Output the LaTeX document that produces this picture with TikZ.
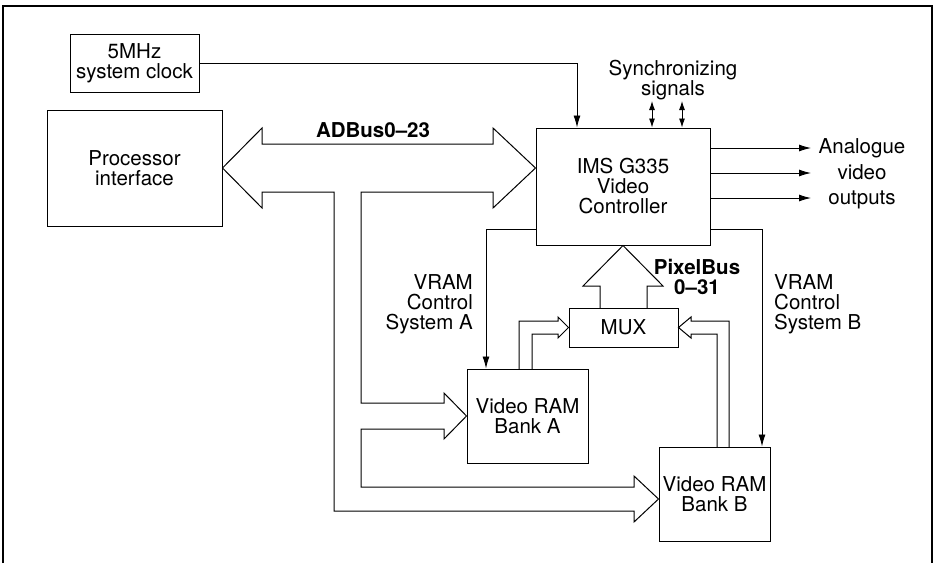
\documentclass[tikz,border=0pt]{standalone}
\usepackage{fontspec}
\setmainfont{TeX Gyre Heros}
\usetikzlibrary{arrows.meta,calc}
\begin{document}
\begin{tikzpicture}[x=1pt,y=-1pt,
  box/.style={draw,line width=1pt,inner sep=0,align=center,font=\fontsize{20.5}{20}\selectfont},
  lbl/.style={inner sep=0,font=\fontsize{20.5}{20}\selectfont},
  blbl/.style={inner sep=0,font=\fontsize{20.5}{20}\selectfont\bfseries},
  bus/.style={line width=1pt,line join=miter},
  sig/.style={line width=0.9pt,-{Latex[length=12pt,width=7pt]}},
  sigtwo/.style={line width=0.9pt,{Latex[length=9pt,width=6pt]}-{Latex[length=9pt,width=6pt]}},
]
\useasboundingbox (0,0) rectangle (935,563);
\draw[line width=1.4pt] (3,563) -- (3,6) -- (932,6) -- (932,563);

% blocks
\node[box,minimum width=129,minimum height=58] (clock) at (134.5,63) {5MHz\\system clock};
\node[box,minimum width=175,minimum height=116] (proc) at (134.5,168) {Processor\\interface};
\node[box,minimum width=174,minimum height=117] (ctrl) at (623,186.5) {IMS G335\\Video\\Controller};
\node[box,minimum width=109,minimum height=39] (mux) at (623.5,327.5) {MUX};
\node[box,minimum width=121,minimum height=94] (bankA) at (527.5,416) {Video RAM\\Bank A};
\node[box,minimum width=111,minimum height=94] (bankB) at (714.5,494) {Video RAM\\Bank B};

% labels
\node[lbl,align=center] (lsync) at (673,80) {Synchronizing\\signals};
\node[inner sep=0,align=center,font=\fontsize{20.5}{25.5}\selectfont] (lout) at (862,174) {Analogue\\video\\outputs};
\node[blbl] (ladbus) at (373,130) {ADBus0–23};
\node[lbl,align=right,anchor=east] (lvA) at (473,304) {VRAM\\Control\\System A};
\node[lbl,align=left,anchor=west] (lvB) at (774,304) {VRAM\\Control\\System B};
\node[blbl,align=center] (lpix) at (697,277) {PixelBus\\0–31};

% ADBus broad arrow with branches to the banks
\draw[bus] (proc.east) -- (262,128) -- (262,144) -- (493,144) -- (493,128)
  -- (ctrl.west |- proc.east) -- (493,208) -- (493,192) -- (361,192)
  -- (361,403) -- (444,403) -- (444,393) -- (bankA.west) -- (444,439) -- (444,429)
  -- (361,429) -- (361,487) -- (634,487) -- (634,476) -- ($(bankB.west)+(0,5)$)
  -- (634,522) -- (634,511) -- (334,511) -- (334,192) -- (262,192) -- (262,208) -- cycle;

% PixelBus
\draw[bus] (600,308) -- (600,286) -- (583,286) -- (ctrl.south) -- (663,286) -- (647,286) -- (647,308);
% bank A to MUX
\draw[bus] (519,369) -- (519,321) -- (558,321) -- (558,317) -- (mux.west) -- (558,338) -- (558,334) -- (532,334) -- (532,369);
% bank B to MUX
\draw[bus] (729,447) -- (729,321) -- (691,321) -- (691,317) -- (mux.east) -- (691,338) -- (691,334) -- (717,334) -- (717,447);

% thin signals
\draw[sig] (clock.east) -| ([xshift=-46pt]ctrl.north);
\draw[sigtwo] (652,101) -- ([xshift=29pt]ctrl.north);
\draw[sigtwo] (682,101) -- ([xshift=59pt]ctrl.north);
\draw[sig] (ctrl.east |- 0,148) -- (811,148);
\draw[sig] (ctrl.east |- 0,173) -- (811,173);
\draw[sig] (ctrl.east |- 0,198) -- (811,198);
\draw[sig] (ctrl.west |- 0,229) -| (bankA.north -| 486,0);
\draw[sig] (ctrl.east |- 0,229) -| (bankB.north -| 762,0);
\end{tikzpicture}
\end{document}
